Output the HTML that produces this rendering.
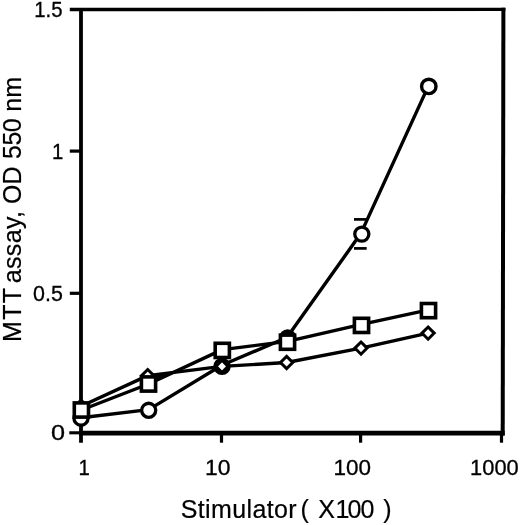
<!DOCTYPE html>
<html>
<head>
<meta charset="utf-8">
<title>MTT assay chart</title>
<style>
html,body{margin:0;padding:0;background:#fff;}
body{width:520px;height:525px;overflow:hidden;}
svg{display:block;}
text{font-family:"Liberation Sans",sans-serif;fill:#000;}
.tick{font-size:21px;stroke:#000;stroke-width:0.3px;}
.lab{font-size:25px;stroke:#000;stroke-width:0.2px;}
</style>
</head>
<body>
<svg width="520" height="525" viewBox="0 0 520 525">
<rect x="0" y="0" width="520" height="525" fill="#fff"/>
<!-- frame -->
<g stroke="#000" fill="none" stroke-linecap="butt">
  <line x1="69.8" y1="9.5" x2="505.4" y2="9.45" stroke-width="3.3"/>
  <line x1="81" y1="8" x2="81" y2="442.7" stroke-width="3.8"/>
  <line x1="503.4" y1="7.8" x2="502.7" y2="435.5" stroke-width="4"/>
  <line x1="79.1" y1="433.2" x2="504.7" y2="433.2" stroke-width="4.7"/>
  <line x1="69.3" y1="432.8" x2="81" y2="432.8" stroke-width="3.1"/>
  <!-- y ticks -->
  <line x1="69.8" y1="151.1" x2="81" y2="151.1" stroke-width="3.2"/>
  <line x1="69.8" y1="293.3" x2="81" y2="293.3" stroke-width="3.2"/>
  <!-- x ticks -->
  <line x1="221.5" y1="433" x2="221.5" y2="442.7" stroke-width="3.2"/>
  <line x1="360.6" y1="433" x2="360.6" y2="442.7" stroke-width="3.2"/>
  <line x1="501.5" y1="433" x2="501.5" y2="442.7" stroke-width="3.2"/>
</g>
<!-- series lines -->
<g stroke="#000" fill="none" stroke-width="3.4" stroke-linejoin="round">
  <polyline points="81,417.8 148.7,409.6 221.8,365.3 286.9,337.5 360.8,233.6 428.2,86.4"/>
  <polyline points="81.4,410 148.5,384 222.3,349.6 287.5,341.4 361.5,324.4 428.5,309.9"/>
  <polyline points="81,406.2 147.7,375.6 222,366.4 286.6,362.5 361,348.1 428.1,333.1"/>
</g>
<path d="M155,374.8 L176,372.3 L155,381.5Z" fill="#000"/>
<!-- error bar -->
<g stroke="#000" stroke-width="2.7" fill="none">
  <line x1="354" y1="219.4" x2="366.6" y2="219.4"/>
  <line x1="354" y1="248.4" x2="366.7" y2="248.4"/>
</g>
<!-- diamond markers -->
<g stroke="#000" fill="#fff" stroke-width="3">
  <path d="M81.0,400.1 L87.1,406.2 L81.0,412.3 L74.9,406.2Z"/>
  <path d="M147.7,369.5 L153.8,375.6 L147.7,381.7 L141.6,375.6Z"/>
  <path d="M222.0,360.3 L228.1,366.4 L222.0,372.5 L215.9,366.4Z"/>
  <path d="M286.6,356.4 L292.7,362.5 L286.6,368.6 L280.5,362.5Z"/>
  <path d="M361.0,342.0 L367.1,348.1 L361.0,354.2 L354.9,348.1Z"/>
  <path d="M428.1,327.0 L434.2,333.1 L428.1,339.2 L422.0,333.1Z"/>
</g>
<!-- circle markers -->
<g stroke="#000" fill="#fff" stroke-width="3.5">
  <circle cx="81" cy="418.2" r="7.05" stroke-width="3.3"/>
  <circle cx="148.7" cy="410.3" r="7.05" stroke-width="3.3"/>
  <circle cx="222" cy="366.4" r="7.05" stroke-width="3.3" fill="none"/>
  <circle cx="287.7" cy="338" r="7.05" stroke-width="3.3" fill="#000"/>
  <circle cx="361.8" cy="234.1" r="7.05" stroke-width="3.3"/>
  <circle cx="428.8" cy="86.4" r="7.2" stroke-width="3.4"/>
</g>
<!-- square markers -->
<g stroke="#000" fill="#fff" stroke-width="3.6">
  <rect x="74.30" y="402.90" width="14.2" height="14.2"/>
  <rect x="141.40" y="376.90" width="14.2" height="14.2"/>
  <rect x="215.20" y="343.30" width="14.2" height="14.2"/>
  <rect x="280.40" y="335.10" width="14.2" height="14.2"/>
  <rect x="354.40" y="318.30" width="14.2" height="14.2"/>
  <rect x="421.40" y="303.50" width="14.2" height="14.2"/>
</g>
<!-- tick labels -->
<g class="tick">
  <text transform="translate(62.6,17.2) scale(0.97,1.05)" text-anchor="end">1.5</text>
  <text transform="translate(63.4,158.9) scale(0.97,1.05)" text-anchor="end">1</text>
  <text transform="translate(62.8,300.9) scale(1.02,1.05)" text-anchor="end">0.5</text>
  <text transform="translate(65.0,440.0) scale(1.2,1.05)" text-anchor="end">0</text>
  <text transform="translate(84.2,474.9) scale(0.97,1.05)" text-anchor="middle">1</text>
  <text transform="translate(217.7,474.8) scale(1.09,1.05)" text-anchor="middle">10</text>
  <text transform="translate(352.2,474.9) scale(1.07,1.05)" text-anchor="middle">100</text>
  <text transform="translate(494.4,474.9) scale(1.04,1.05)" text-anchor="middle">1000</text>
</g>
<g class="lab">
  <text x="180.7" y="517.9" letter-spacing="0.08" dx="0 .3 .3 .3 .3 .3 .3 .3 .3 .3 0 -3.2 0 2.3 .5 -2.1 -1.1 0 1.8">Stimulator ( X100 )</text>
  <text transform="translate(20.7,342.4) rotate(-90)" letter-spacing="0.12" dx=".5 1.2 1.2 0 -2.2 .25 .25 .25 .25 .3 0 -.3 0 0 .3 -.7 -.6 0 -.7 0">MTT assay, OD 550 nm</text>
</g>
</svg>
</body>
</html>
